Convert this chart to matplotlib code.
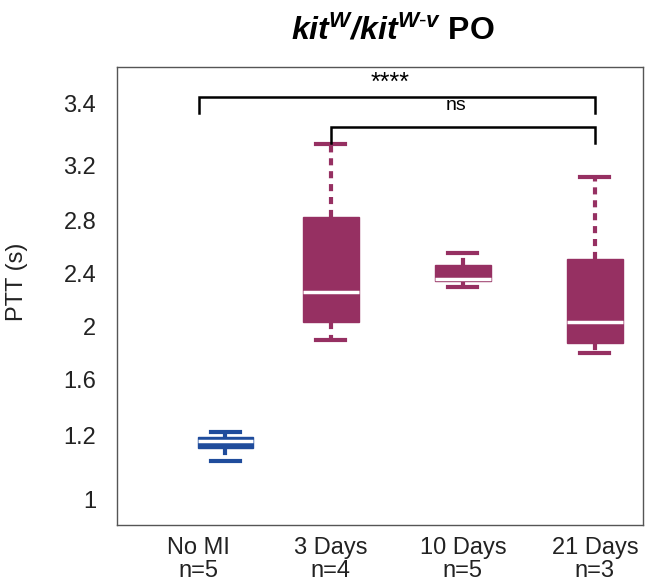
import numpy as np
import matplotlib
matplotlib.use("Agg")
import matplotlib.pyplot as plt

# data
groups = ['No MI', '3 Days', '10 Days', '21 Days']
n_counts = [5, 4, 5, 3]
whis_lo = [1.12, 1.90, 2.30, 1.80]
q1 = [1.162, 2.04, 2.345, 1.88]
medians = [1.184, 2.26, 2.365, 2.04]
q3 = [1.197, 2.83, 2.47, 2.51]
whis_hi = [1.229, 3.27, 2.56, 3.12]

# the original y axis is not linear: tick values and where they sit (px above axis bottom)
ytick_vals = [1.0, 1.2, 1.6, 2.0, 2.4, 2.8, 3.2, 3.4]
ytick_pos = [26, 89, 145, 198, 251, 304, 359, 421]

purple = '#963062'
blue = '#1f4c9c'
box_colors = [blue, purple, purple, purple]


def main():
    plt.rcParams['font.family'] = ['Liberation Sans', 'DejaVu Sans']
    plt.rcParams['mathtext.fontset'] = 'custom'
    plt.rcParams['mathtext.rm'] = 'Liberation Sans'
    plt.rcParams['mathtext.it'] = 'Liberation Sans:italic'
    plt.rcParams['mathtext.bf'] = 'Liberation Sans:bold'
    plt.rcParams['mathtext.bfit'] = 'Liberation Sans:italic:bold'

    # piecewise linear mapping, extended linearly at both ends
    vals = np.array([0.5] + ytick_vals + [4.0])
    pos = np.array([26 - 0.5 * 63 / 0.2] + ytick_pos + [421 + 0.6 * 62 / 0.2])

    def forward(v):
        return np.interp(v, vals, pos)

    def inverse(p):
        return np.interp(p, pos, vals)

    fig = plt.figure(figsize=(6.52, 5.86), dpi=100)
    ax = fig.add_axes([0.1794, 0.1041, 0.8067, 0.7816])
    ax.set_yscale('function', functions=(forward, inverse))

    box_x = [1.2, 2, 3, 4]
    stats = []
    for i in range(len(groups)):
        stats.append(dict(med=medians[i], q1=q1[i], q3=q3[i],
                          whislo=whis_lo[i], whishi=whis_hi[i], fliers=[]))

    for i, s in enumerate(stats):
        c = box_colors[i]
        ax.bxp([s], positions=[box_x[i]], widths=0.42, capwidths=0.22,
               patch_artist=True, showfliers=False,
               boxprops=dict(facecolor=c, edgecolor=c, linewidth=1),
               medianprops=dict(color='white', linewidth=2.5),
               whiskerprops=dict(color=c, linewidth=3, linestyle=(0, (1.7, 1.4))),
               capprops=dict(color=c, linewidth=3))

    # significance brackets
    ax.plot([1, 1, 4, 4], [3.371, 3.423, 3.423, 3.371], color='black', lw=1.8,
            solid_joinstyle='miter')
    ax.text(2.45, 3.468, '****', ha='center', va='center', fontsize=18)
    ax.plot([2, 2, 4, 4], [3.274, 3.326, 3.326, 3.274], color='black', lw=1.8,
            solid_joinstyle='miter')
    ax.text(2.95, 3.395, 'ns', ha='center', va='center', fontsize=14)

    ax.set_xlim(0.379, 4.364)
    ax.set_ylim(0.9175, 3.519)
    ax.set_yticks(ytick_vals)
    ax.set_yticklabels([f'{v:g}' for v in ytick_vals])
    ax.set_xticks([1, 2, 3, 4])
    ax.set_xticklabels([f'{g}\nn={n}' for g, n in zip(groups, n_counts)],
                       linespacing=1.05)
    ax.tick_params(axis='y', length=0, pad=15, labelsize=17, labelcolor='#222222')
    ax.tick_params(axis='x', length=0, pad=9, labelsize=17, labelcolor='#222222')
    ax.yaxis.set_minor_locator(matplotlib.ticker.NullLocator())

    for sp in ax.spines.values():
        sp.set_color('#555555')
        sp.set_linewidth(1)

    ax.set_ylabel('PTT (s)', fontsize=17, color='#222222')
    ax.yaxis.set_label_coords(-0.17, 0.53)
    fig.text(0.603, 0.948, r'$\mathbfit{kit}^{\mathbfit{W}}\mathbfit{/kit}^{\mathbfit{W\text{-}v}}$ PO',
             ha='center', va='center', fontsize=23, fontweight='bold')

    fig.savefig('out.png', dpi=100)


if __name__ == "__main__":
    main()
